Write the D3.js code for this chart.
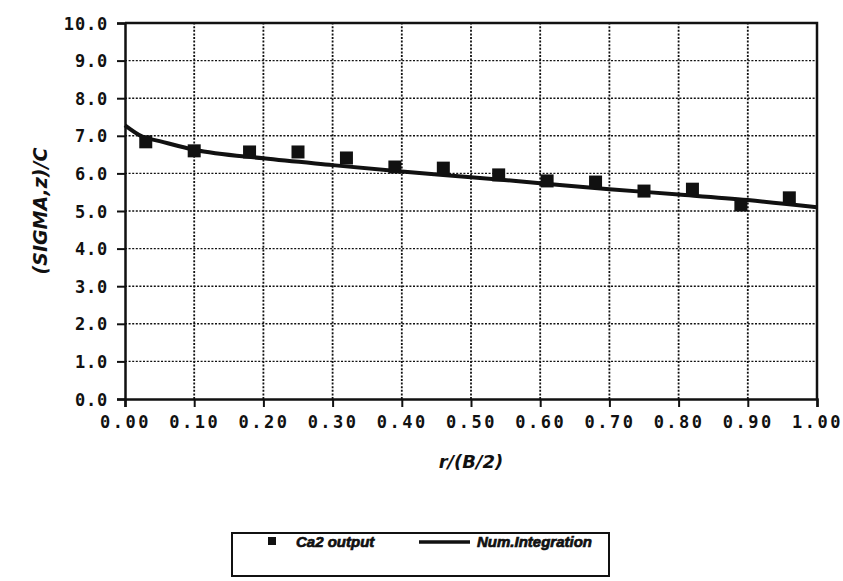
<!DOCTYPE html>
<html>
<head>
<meta charset="utf-8">
<script src="https://cdn.jsdelivr.net/npm/d3@7"></script>
<style>
  body { margin: 0; background: #fff; }
  .tick text { font-family: "DejaVu Sans Mono", monospace; font-weight: bold; font-size: 17px; fill: #111; }
  .title { font-family: "DejaVu Sans", sans-serif; font-weight: bold; font-style: italic; fill: #111; }
  .leg { font-family: "Liberation Sans", Arial, sans-serif; font-weight: bold; font-style: italic; font-size: 15px; fill: #111; stroke: #111; stroke-width: 0.7px; }
</style>
</head>
<body>
<div id="chart"></div>
<script>
// Ca2 output markers
const ptR = [0.03, 0.10, 0.18, 0.25, 0.32, 0.39, 0.46, 0.54, 0.61, 0.68, 0.75, 0.82, 0.89, 0.96];
const ptVal = [6.84, 6.6, 6.57, 6.57, 6.41, 6.17, 6.14, 5.96, 5.8, 5.77, 5.53, 5.58, 5.16, 5.35];
// numerical integration curve
const lnR = [0, 0.025, 0.05, 0.1, 0.2, 0.3, 0.4, 0.5, 0.6, 0.7, 0.8, 0.9, 1.0];
const lnVal = [7.28, 6.98, 6.86, 6.63, 6.4, 6.22, 6.05, 5.9, 5.74, 5.58, 5.44, 5.29, 5.1];
const xTicks = [0, 0.1, 0.2, 0.3, 0.4, 0.5, 0.6, 0.7, 0.8, 0.9, 1.0];
const yTicks = [0, 1, 2, 3, 4, 5, 6, 7, 8, 9, 10];
const legendLabels = ["Ca2 output", "Num.Integration"];

const width = 843, height = 581;
const margin = {left: 125, top: 23, right: 26, bottom: 182};
const iw = width - margin.left - margin.right,
      ih = height - margin.top - margin.bottom;

const svg = d3.select("#chart").append("svg")
    .attr("width", width).attr("height", height);

const x = d3.scaleLinear().domain([0, 1]).range([margin.left, margin.left + iw]);
const y = d3.scaleLinear().domain([0, 10]).range([margin.top + ih, margin.top]);

// grid
const grid = svg.append("g").attr("class", "grid");
grid.selectAll("line.h").data(yTicks.slice(1, -1)).enter().append("line")
    .attr("class", "h")
    .attr("x1", x(0)).attr("x2", x(1))
    .attr("y1", d => y(d)).attr("y2", d => y(d))
    .attr("stroke", "#111").attr("stroke-width", 1.4)
    .attr("stroke-dasharray", "2,1.6");
grid.selectAll("line.v").data(xTicks.slice(1, -1)).enter().append("line")
    .attr("class", "v")
    .attr("x1", d => x(d)).attr("x2", d => x(d))
    .attr("y1", y(0)).attr("y2", y(10))
    .attr("stroke", "#111").attr("stroke-width", 1.8)
    .attr("stroke-dasharray", "2,1.6");

// axes
const xAxis = svg.append("g")
    .attr("transform", `translate(0,${y(0)})`)
    .call(d3.axisBottom(x).tickValues(xTicks).tickFormat(d3.format(".2f")).tickSizeOuter(0).tickSize(8).tickPadding(9));
const yAxis = svg.append("g")
    .attr("transform", `translate(${x(0)},0)`)
    .call(d3.axisLeft(y).tickValues(yTicks).tickFormat(d3.format(".1f")).tickSizeOuter(0).tickSize(8).tickPadding(9));
[xAxis, yAxis].forEach(a => {
  a.select(".domain").attr("stroke", "#111").attr("stroke-width", 2.5);
  a.selectAll(".tick line").attr("stroke", "#111").attr("stroke-width", 2);
});
xAxis.selectAll(".tick text").style("letter-spacing", "2.5px");
yAxis.selectAll(".tick text").attr("dy", "0.36em").style("letter-spacing", "0.8px");

// frame top/right
svg.append("path")
    .attr("d", `M${x(0)},${y(10)}H${x(1)}V${y(0)}`)
    .attr("fill", "none").attr("stroke", "#111").attr("stroke-width", 2.5);

// curve
const line = d3.line().x(d => x(d[0])).y(d => y(d[1])).curve(d3.curveMonotoneX);
svg.append("path")
    .datum(lnR.map((r, i) => [r, lnVal[i]]))
    .attr("d", line)
    .attr("fill", "none").attr("stroke", "#111").attr("stroke-width", 4);

// markers
const sz = 13;
svg.append("g").selectAll("rect").data(ptR.map((r, i) => [r, ptVal[i]])).enter().append("rect")
    .attr("x", d => x(d[0]) - sz / 2).attr("y", d => y(d[1]) - sz / 2)
    .attr("width", sz).attr("height", sz)
    .attr("fill", "#111");

// titles
svg.append("text").attr("class", "title").style("font-size", "18px")
    .attr("x", x(0.5)).attr("y", 468)
    .attr("text-anchor", "middle").text("r/(B/2)");
svg.append("text").attr("class", "title").style("font-size", "19px")
    .attr("transform", `translate(47,${y(5.0)}) rotate(-90)`)
    .attr("text-anchor", "middle").text("(SIGMA,z)/C");

// legend
const lg = svg.append("g");
lg.append("rect").attr("x", 232).attr("y", 533).attr("width", 377).attr("height", 43)
    .attr("fill", "none").attr("stroke", "#111").attr("stroke-width", 2);
lg.append("rect").attr("x", 268).attr("y", 537).attr("width", 8).attr("height", 8).attr("fill", "#111");
lg.append("text").attr("class", "leg").attr("x", 296).attr("y", 547).text(legendLabels[0]);
lg.append("line").attr("x1", 419).attr("x2", 470).attr("y1", 542).attr("y2", 542)
    .attr("stroke", "#111").attr("stroke-width", 3.5);
lg.append("text").attr("class", "leg").attr("x", 477).attr("y", 547).text(legendLabels[1]);
</script>
</body>
</html>
